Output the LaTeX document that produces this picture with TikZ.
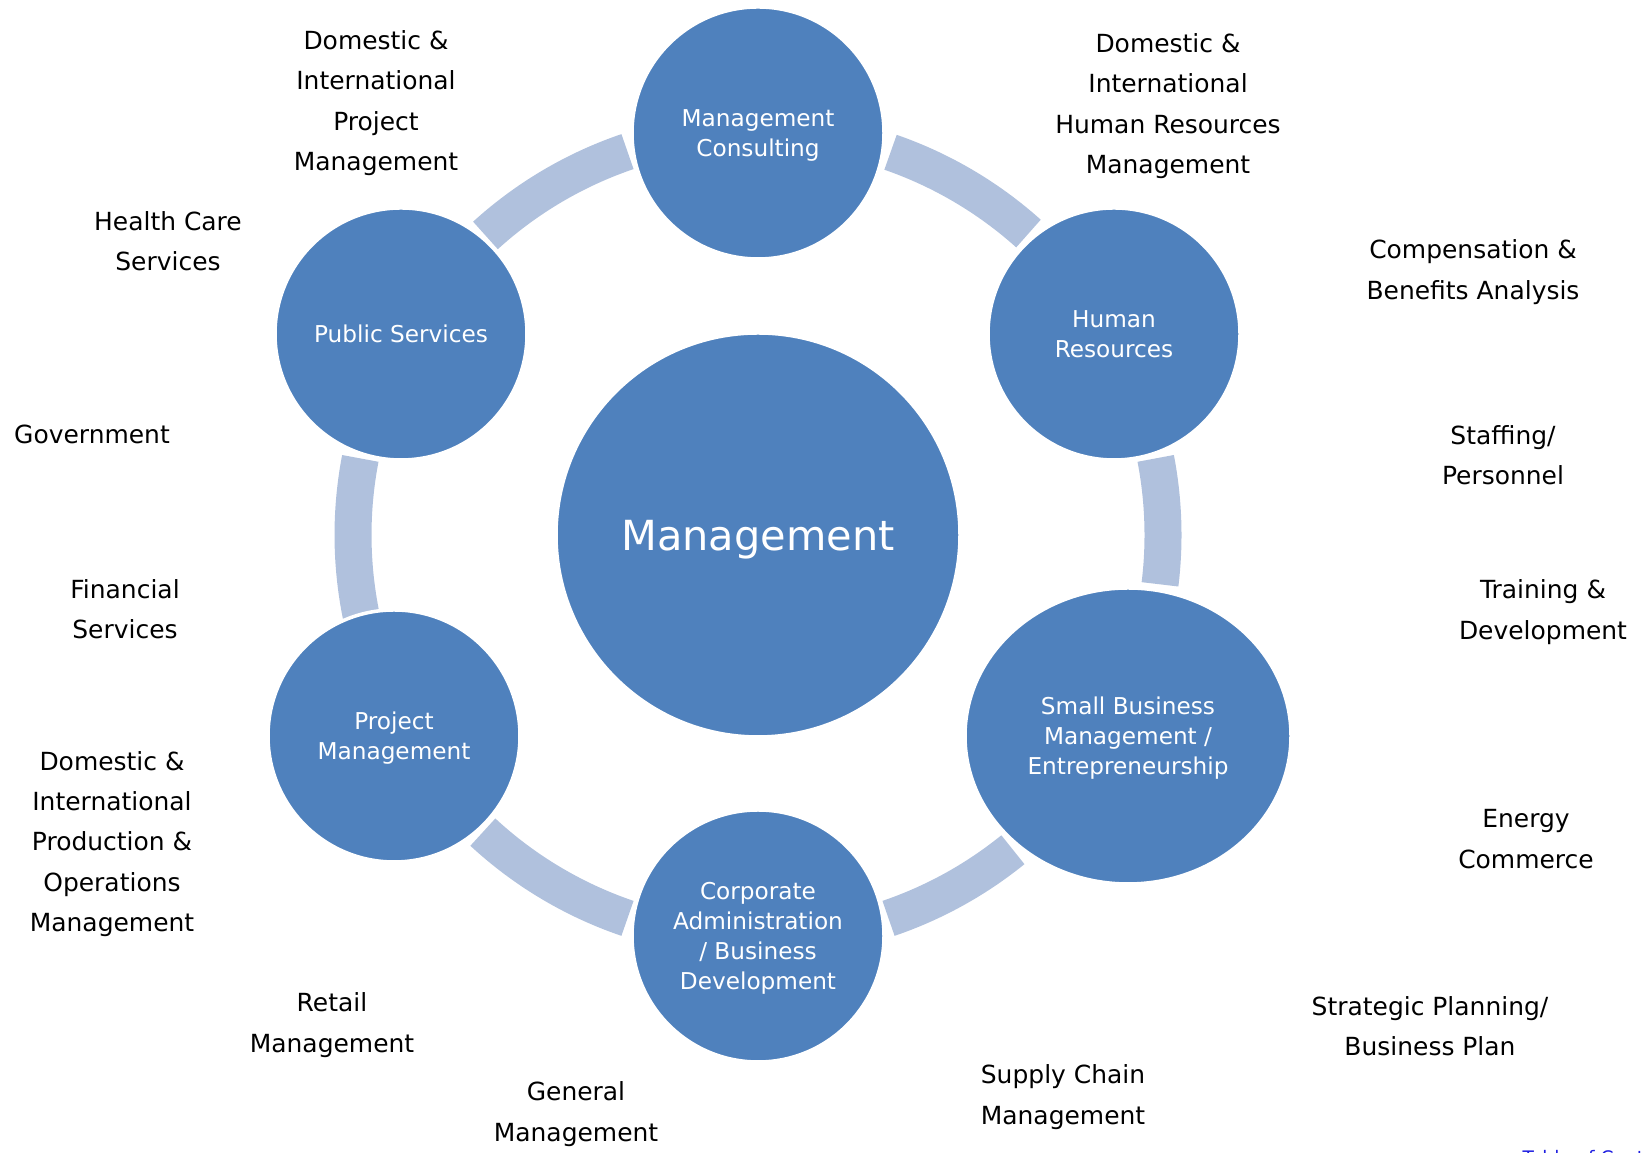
\documentclass[tikz,border=0pt]{standalone}
\usepackage{fontspec}
\setmainfont{DejaVu Sans}
\usepackage{tikz}
\usetikzlibrary{positioning,shapes.geometric}
\definecolor{hubblue}{HTML}{4F81BD}
\definecolor{arcblue}{HTML}{B0C1DD}
\definecolor{tocblue}{HTML}{1F1FE0}
\tikzset{
  hubcircle/.style={circle, fill=hubblue, draw=white, line width=1pt, minimum size=40.4mm, inner sep=0pt, text=white, text depth=0pt, font=\fontsize{11.8}{14}\selectfont, align=center},
  spokecircle/.style={circle, fill=hubblue, draw=white, line width=1pt, minimum size=25.2mm, inner sep=0pt, text=white, text depth=0pt, font=\fontsize{6.6}{8.5}\selectfont, align=center},
  spokeoval/.style={spokecircle, ellipse, minimum width=32.6mm, minimum height=29.6mm},
  ringarc/.style={draw=arcblue, line width=3.7mm},
  field/.style={align=center, font=\fontsize{7.1}{11.5}\selectfont},
}
\begin{document}
\begin{tikzpicture}
  \useasboundingbox (0,0) rectangle (16.46,11.53);
  \clip (0,0) rectangle (16.46,11.53);

  \coordinate (hub) at (7.58,6.18);
  \draw[ringarc] ([shift={(108.8:4.05)}]hub) arc[start angle=108.8, end angle=132.3, radius=4.05];
  \draw[ringarc] ([shift={(48.1:4.05)}]hub) arc[start angle=48.1, end angle=70.9, radius=4.05];
  \draw[ringarc] ([shift={(-7:4.05)}]hub) arc[start angle=-7, end angle=10.9, radius=4.05];
  \draw[ringarc] ([shift={(-71.2:4.05)}]hub) arc[start angle=-71.2, end angle=-51, radius=4.05];
  \draw[ringarc] ([shift={(227.2:4.05)}]hub) arc[start angle=227.2, end angle=251.2, radius=4.05];
  \draw[ringarc] ([shift={(169.1:4.05)}]hub) arc[start angle=169.1, end angle=191.6, radius=4.05];

  \node[hubcircle] (mgmt) at (hub) {Management};
  \node[spokecircle] (consult) at (7.58,10.20) {Management\\Consulting};
  \node[spokecircle] (hr) at (11.14,8.19) {Human\\Resources};
  \node[spokeoval] (smallbiz) at (11.28,4.17) {Small Business\\Management /\\Entrepreneurship};
  \node[spokecircle] (corp) at (7.58,2.17) {Corporate\\Administration\\/ Business\\Development};
  \node[spokecircle] (projmgmt) at (3.94,4.17) {Project\\Management};
  \node[spokecircle] (public) at (4.01,8.19) {Public Services};

  \node[field] (f1) at (3.76,10.50) {Domestic \&\\International\\Project\\Management};
  \node[field] (f2) at (11.68,10.47) {Domestic \&\\International\\Human Resources\\Management};
  \node[field] (f3) at (1.68,9.12) {Health Care\\Services};
  \node[field] (f4) at (14.73,8.81) {Compensation \&\\Benefits Analysis};
  \node[field] (f5) at (0.92,7.19) {Government};
  \node[field] (f6) at (15.03,6.98) {Staffing/\\Personnel};
  \node[field] (f7) at (1.25,5.44) {Financial\\Services};
  \node[field] (f8) at (15.43,5.41) {Training \&\\Development};
  \node[field] (f9) at (1.12,3.09) {Domestic \&\\International\\Production \&\\Operations\\Management};
  \node[field] (f10) at (15.26,3.14) {Energy\\Commerce};
  \node[field] (f11) at (3.32,1.28) {Retail\\Management};
  \node[field] (f12) at (14.30,1.27) {Strategic Planning/\\Business Plan};
  \node[field] (f13) at (5.76,0.39) {General\\Management};
  \node[field] (f14) at (10.63,0.56) {Supply Chain\\Management};

  \node[anchor=north west, inner sep=0pt, text=tocblue, font=\fontsize{5.3}{6}\selectfont] (toc) at (15.22,0.03) {\underline{Table of Contents}};
\end{tikzpicture}
\end{document}
